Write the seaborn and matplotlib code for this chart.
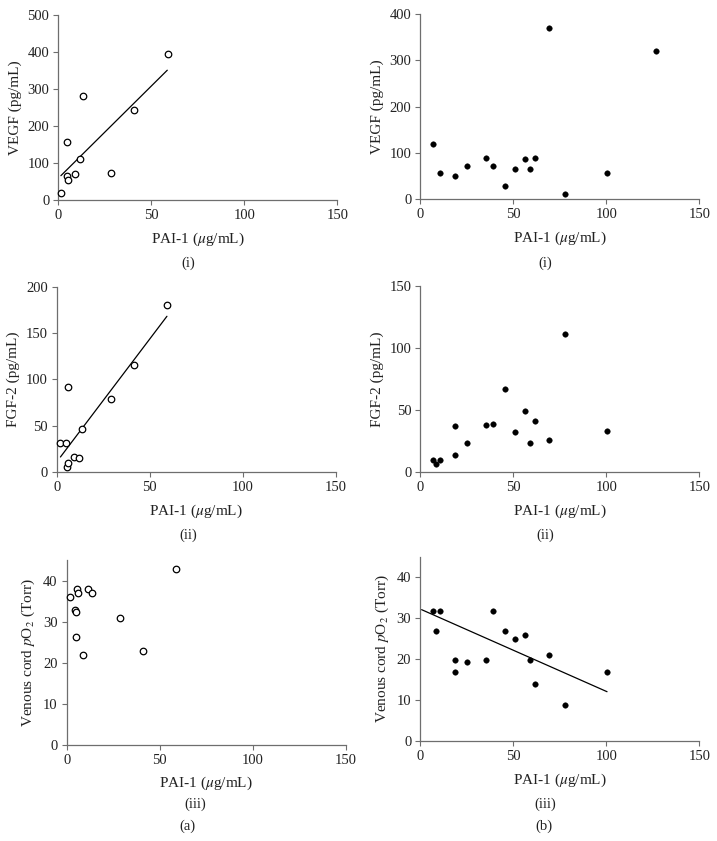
import numpy as np
import pandas as pd
import matplotlib
matplotlib.use("Agg")
import matplotlib.pyplot as plt
import seaborn as sns

# ---- data ----
# (a) open circles
a_vegf_x = [1.4, 4.5, 4.7, 5.4, 8.8, 11.5, 13.4, 28.5, 40.9, 58.8]
a_vegf_y = [20.7, 156, 66, 55, 72, 112, 281, 73, 245, 396]
a_vegf_fit_x = [1.4, 58.6]
a_vegf_fit_y = [66.5, 351]

a_fgf_x = [2.0, 5.0, 6.3, 5.4, 5.9, 9.3, 12.0, 13.8, 29.0, 41.3, 59.2]
a_fgf_y = [31.4, 31.7, 92, 5, 10, 16, 14.8, 46, 79, 116, 180.5]
a_fgf_fit_x = [2.0, 59.2]
a_fgf_fit_y = [16.2, 168.3]

a_po2_x = [1.6, 5.4, 5.9, 4.5, 4.8, 4.8, 8.8, 11.6, 13.4, 28.5, 41.0, 58.8]
a_po2_y = [36.0, 38.0, 37.0, 32.9, 32.3, 26.2, 21.9, 37.9, 36.9, 30.9, 22.9, 42.8]

# (b) filled dots
b_vegf_x = [6.6, 10.6, 18.8, 24.9, 35.3, 38.9, 45.7, 50.7, 56.1, 59.1, 61.5, 69.2, 77.8, 100.4, 126.9]
b_vegf_y = [119, 56, 51, 72, 90, 71, 29, 65, 86, 65, 90, 370, 11, 56, 320]

b_fgf_x = [6.6, 8.6, 10.6, 18.6, 18.8, 24.9, 35.3, 38.9, 45.7, 50.7, 56.1, 59.1, 61.5, 69.2, 77.8, 100.4]
b_fgf_y = [9.4, 6.2, 9.4, 37.4, 13.7, 23.4, 38.2, 38.5, 67, 32, 49.6, 23.4, 40.9, 25.9, 111.5, 32.9]

b_po2_x = [6.6, 8.6, 10.8, 18.6, 18.6, 24.9, 35.3, 38.9, 45.7, 50.7, 56.3, 59.1, 61.5, 69.4, 77.8, 100.4]
b_po2_y = [31.8, 27.0, 31.8, 19.9, 16.9, 19.4, 19.9, 31.8, 27.0, 24.9, 25.9, 19.9, 13.9, 21.0, 8.9, 16.9]
b_po2_fit_x = [0.7, 100.4]
b_po2_fit_y = [32.1, 12.1]

x_label = r"PAI-1 ($\mu$g/mL)"
vegf_label = "VEGF (pg/mL)"
fgf_label = "FGF-2 (pg/mL)"
po2_label = r"Venous cord $p$O$_2$ (Torr)"

sns.set_theme(style="ticks")
plt.rcParams["font.family"] = ["Liberation Serif", "DejaVu Serif"]
plt.rcParams["mathtext.fontset"] = "stix"
plt.rcParams["axes.edgecolor"] = "#6e6e6e"
plt.rcParams["xtick.color"] = "#6e6e6e"
plt.rcParams["ytick.color"] = "#6e6e6e"
plt.rcParams["xtick.labelcolor"] = "#222222"
plt.rcParams["ytick.labelcolor"] = "#222222"

fig = plt.figure(figsize=(7.17, 8.41), dpi=100)

W = 0.3891
panels = [
    # rect, x, y, open?, ylabel, ylim, yticks, fit
    ([0.0813, 0.7618, W, 0.2204], a_vegf_x, a_vegf_y, True, vegf_label, 500, [0, 100, 200, 300, 400, 500], (a_vegf_fit_x, a_vegf_fit_y)),
    ([0.5862, 0.7630, W, 0.2207], b_vegf_x, b_vegf_y, False, vegf_label, 400, [0, 100, 200, 300, 400], None),
    ([0.0791, 0.4388, 0.3895, 0.2200], a_fgf_x, a_fgf_y, True, fgf_label, 200, [0, 50, 100, 150, 200], (a_fgf_fit_x, a_fgf_fit_y)),
    ([0.5862, 0.4388, W, 0.2208], b_fgf_x, b_fgf_y, False, fgf_label, 150, [0, 50, 100, 150], None),
    ([0.0930, 0.1145, W, 0.2196], a_po2_x, a_po2_y, True, po2_label, 45, [0, 10, 20, 30, 40], None),
    ([0.5862, 0.1185, W, 0.2195], b_po2_x, b_po2_y, False, po2_label, 45, [0, 10, 20, 30, 40], (b_po2_fit_x, b_po2_fit_y)),
]

for rect, xs, ys, hollow, ylab, ymax, yt, fit in panels:
    ax = fig.add_axes(rect)
    df = pd.DataFrame({"x": xs, "y": ys})
    if fit is not None:
        sns.lineplot(x=fit[0], y=fit[1], ax=ax, color="black", linewidth=0.9)
    if hollow:
        sns.scatterplot(data=df, x="x", y="y", ax=ax, s=22, facecolor="white",
                        edgecolor="black", linewidth=0.9, zorder=3, clip_on=False)
    else:
        sns.scatterplot(data=df, x="x", y="y", ax=ax, s=16, color="black",
                        edgecolor="black", linewidth=0.3, zorder=3, clip_on=False)
    ax.set_xlim(0, 150)
    ax.set_ylim(0, ymax)
    ax.set_xticks([0, 50, 100, 150])
    ax.set_yticks(yt)
    ax.tick_params(direction="out", length=3.5, width=0.8, labelsize=10.5, pad=3)
    for s in ["left", "bottom"]:
        ax.spines[s].set_linewidth(0.9)
    sns.despine(ax=ax)
    ax.set_xlabel(x_label, fontsize=11, color="#222222", labelpad=6)
    ax.set_ylabel(ylab, fontsize=11, color="#222222", labelpad=4)

# sub-panel captions
for xc in [0.262, 0.760]:
    fig.text(xc, 1 - 263 / 841, "(i)", ha="center", va="center", fontsize=10.5, color="#222222")
    fig.text(xc, 1 - 535 / 841, "(ii)", ha="center", va="center", fontsize=10.5, color="#222222")
fig.text(0.273, 1 - 804 / 841, "(iii)", ha="center", va="center", fontsize=10.5, color="#222222")
fig.text(0.760, 1 - 804 / 841, "(iii)", ha="center", va="center", fontsize=10.5, color="#222222")
fig.text(0.261, 1 - 826 / 841, "(a)", ha="center", va="center", fontsize=10.5, color="#222222")
fig.text(0.759, 1 - 826 / 841, "(b)", ha="center", va="center", fontsize=10.5, color="#222222")

fig.savefig("out.png", dpi=100, facecolor="white")
